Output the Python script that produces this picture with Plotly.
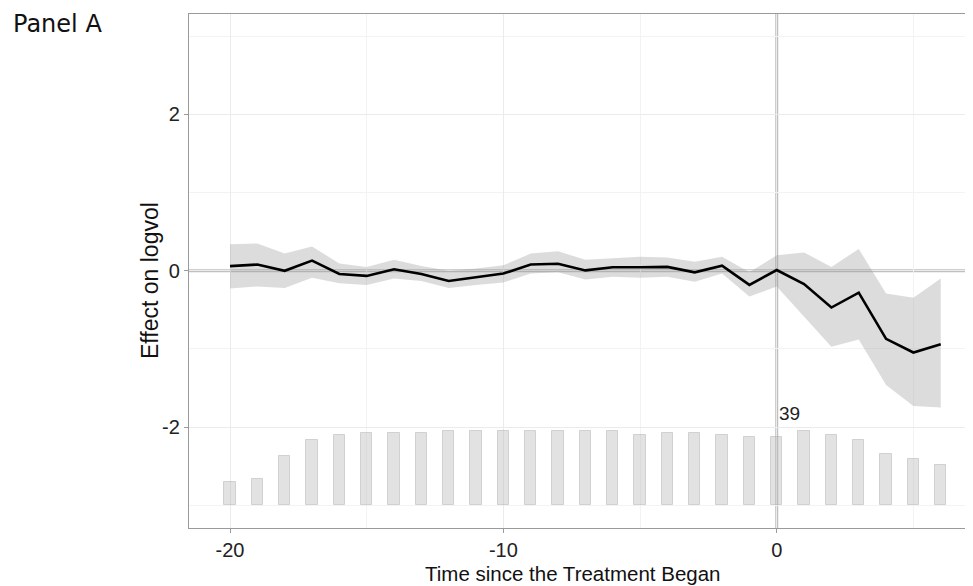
import plotly.graph_objects as go

# ---- data ----
time = [-20, -19, -18, -17, -16, -15, -14, -13, -12, -11, -10, -9, -8, -7,
        -6, -5, -4, -3, -2, -1, 0, 1, 2, 3, 4, 5, 6]
effect = [0.06, 0.08, 0.00, 0.13, -0.04, -0.065, 0.02, -0.04, -0.13, -0.085,
          -0.035, 0.08, 0.09, 0.005, 0.045, 0.045, 0.05, -0.02, 0.065, -0.18,
          0.01, -0.17, -0.47, -0.28, -0.87, -1.045, -0.94]
ci_upper = [0.34, 0.35, 0.22, 0.31, 0.095, 0.05, 0.14, 0.06, 0.0, 0.03,
            0.07, 0.22, 0.25, 0.14, 0.16, 0.18, 0.17, 0.115, 0.18, -0.02,
            0.20, 0.235, 0.05, 0.28, -0.29, -0.345, -0.10]
ci_lower = [-0.225, -0.20, -0.22, -0.09, -0.16, -0.18, -0.10, -0.13, -0.22, -0.18,
            -0.15, -0.035, -0.02, -0.11, -0.075, -0.09, -0.075, -0.14, -0.035, -0.33,
            -0.20, -0.59, -0.97, -0.88, -1.46, -1.73, -1.75]
counts = [12, 14, 26, 34, 37, 38, 38, 38, 39, 39, 39, 39, 39, 39,
          39, 37, 38, 38, 37, 36, 36, 39, 37, 34, 27, 24, 21]

x_tickvals = [-20, -10, 0]
x_ticktext = ["-20", "-10", "0"]
y_tickvals = [-2, 0, 2]
y_ticktext = ["-2", "0", "2"]

# ---- style / layout constants ----
OFF = 8  # default body margin of the page
W, H = 973 - OFF, 586 - OFF
ML, MR, MT, MB = 189 - OFF, 0, 14 - OFF, 58
PW, PH = W - ML - MR, H - MT - MB

bar_base = -3.0
bar_max_height = 0.953
bar_heights = [c / max(counts) * bar_max_height for c in counts]

font_main = "Liberation Sans, Arial, sans-serif"


def px_x(px):
    return (px - OFF - ML) / PW


def px_y(py):
    return 1 - (py - OFF - MT) / PH


fig = go.Figure()

fig.add_trace(go.Bar(
    x=time, y=bar_heights, base=bar_base, width=0.42,
    marker=dict(color="rgba(185,185,185,0.42)",
                line=dict(color="rgba(150,150,150,0.35)", width=1)),
    hoverinfo="skip", showlegend=False))

fig.add_trace(go.Scatter(
    x=time, y=ci_upper, mode="lines", line=dict(width=0, color="rgba(0,0,0,0)"),
    showlegend=False, hoverinfo="skip"))
fig.add_trace(go.Scatter(
    x=time, y=ci_lower, mode="lines", line=dict(width=0, color="rgba(0,0,0,0)"),
    fill="tonexty", fillcolor="rgba(150,150,150,0.33)",
    showlegend=False, hoverinfo="skip"))

fig.add_trace(go.Scatter(
    x=time, y=effect, mode="lines", line=dict(color="black", width=2.6),
    showlegend=False))

# reference lines
fig.add_shape(type="line", xref="paper", x0=0, x1=1, yref="y", y0=0, y1=0,
              line=dict(color="rgba(140,140,140,0.55)", width=3), layer="below")
fig.add_shape(type="line", xref="x", x0=0, x1=0, yref="paper", y0=0, y1=1,
              line=dict(color="rgba(140,140,140,0.55)", width=3), layer="below")

# count label
fig.add_annotation(x=0.45, y=-1.827, xref="x", yref="y", text=str(max(counts)),
                   showarrow=False, font=dict(family=font_main, size=19, color="#222"))

# panel label
fig.add_annotation(x=px_x(11), y=px_y(24), xref="paper", yref="paper", text="Panel A",
                   showarrow=False, xanchor="left", yanchor="middle",
                   font=dict(family="DejaVu Sans", size=24, color="#111"))

# axis titles
fig.add_annotation(x=px_x(573), y=px_y(573), xref="paper", yref="paper",
                   text="Time since the Treatment Began", showarrow=False,
                   xanchor="center", yanchor="middle",
                   font=dict(family=font_main, size=20.5, color="#111"))
fig.add_annotation(x=px_x(150), y=px_y(281), xref="paper", yref="paper",
                   text="Effect on logvol", showarrow=False, textangle=-90,
                   xanchor="center", yanchor="middle",
                   font=dict(family=font_main, size=23, color="#111"))

fig.update_layout(
    width=W, height=H,
    margin=dict(l=ML, r=MR, t=MT, b=MB, autoexpand=False),
    paper_bgcolor="white", plot_bgcolor="white",
    bargap=0,
    font=dict(family=font_main, size=20, color="#222"),
    xaxis=dict(
        range=[-21.5, 7.18], tickmode="array", tickvals=x_tickvals, ticktext=x_ticktext,
        showgrid=True, gridcolor="#ebebeb", gridwidth=1,
        minor=dict(tickmode="linear", dtick=5, tick0=0, showgrid=True,
                   gridcolor="#f3f3f3", gridwidth=1),
        zeroline=False, showline=True, linecolor="#9a9a9a", linewidth=1.3, mirror=True,
        ticks="outside", ticklen=4, tickcolor="#9a9a9a",
        tickfont=dict(size=20, color="#222"), automargin=False,
    ),
    yaxis=dict(
        range=[-3.29, 3.285], tickmode="array", tickvals=y_tickvals, ticktext=y_ticktext,
        showgrid=True, gridcolor="#ebebeb", gridwidth=1,
        minor=dict(tickmode="linear", dtick=1, tick0=0, showgrid=True,
                   gridcolor="#f3f3f3", gridwidth=1),
        zeroline=False, showline=True, linecolor="#9a9a9a", linewidth=1.3,
        ticks="outside", ticklen=4, tickcolor="#9a9a9a",
        tickfont=dict(size=20, color="#222"), automargin=False,
    ),
)

fig.write_html("out.html")
